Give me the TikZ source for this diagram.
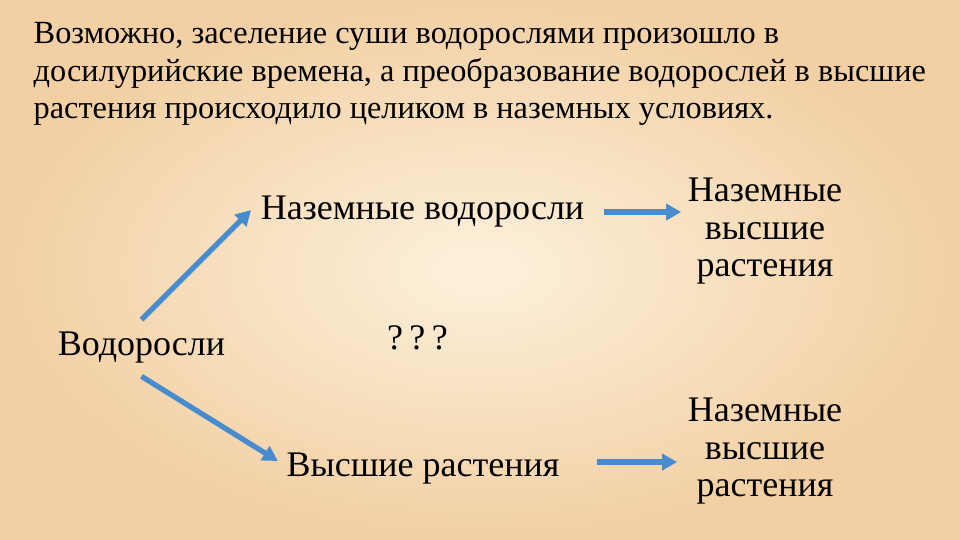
\documentclass[tikz,border=0pt]{standalone}
\usepackage{fontspec}
\setmainfont{Liberation Serif}
\definecolor{leafpale}{RGB}{253,241,220}
\definecolor{leafwarm}{RGB}{242,208,164}
\definecolor{arrowblue}{RGB}{72,140,208}
\usetikzlibrary{arrows.meta,positioning}

\begin{document}
\begin{tikzpicture}[every node/.style={inner sep=0pt, font=\fontsize{10.24}{10.7}\selectfont},
    blarrow/.style={arrowblue, line width=1.5pt, -{Triangle[length=4.3pt,width=4.6pt]}}]
    \shade[inner color=leafpale, outer color=leafwarm] (0,0) rectangle (9.6,5.4);
    \useasboundingbox (0,0) rectangle (9.6,5.4);

    % base of a multi-line node = its last line
    \node[anchor=base west, align=left, font=\fontsize{9.2}{10.7}\selectfont] (intro) at (0.33,4.21)
        {Возможно, заселение суши водорослями произошло в\\
         досилурийские времена, а преобразование водорослей в высшие\\
         растения происходило целиком в наземных условиях.};

    \node[anchor=base] (landalg) at (4.225,3.20) {Наземные водоросли};
    \node[anchor=base] (algae) at (1.415,1.84) {Водоросли};
    \node[anchor=base] (unknown) at (4.175,1.90) {?\kern1.8pt?\kern1.8pt?};
    \node[anchor=base] (higher) at (4.23,0.63) {Высшие растения};

    \node[anchor=base, align=center] (landhigh1) at (7.65,2.63) {Наземные\\высшие\\растения};
    \node[anchor=base, align=center] (landhigh2) at (7.65,0.43) {Наземные\\высшие\\растения};

    \draw[blarrow] ([yshift=0.12cm]algae.north) -- ([xshift=-0.09cm,yshift=0.02cm]landalg.west);
    \draw[blarrow] ([yshift=-0.12cm]algae.south) -- ([xshift=-0.08cm,yshift=0.08cm]higher.west);
    \draw[blarrow] ([xshift=0.19cm]landalg.east) -- ([xshift=-0.06cm]landalg.east -| landhigh1.west);
    \draw[blarrow] ([xshift=0.37cm,yshift=0.07cm]higher.east) -- ([xshift=-0.10cm,yshift=0.07cm]higher.east -| landhigh2.west);
\end{tikzpicture}
\end{document}
